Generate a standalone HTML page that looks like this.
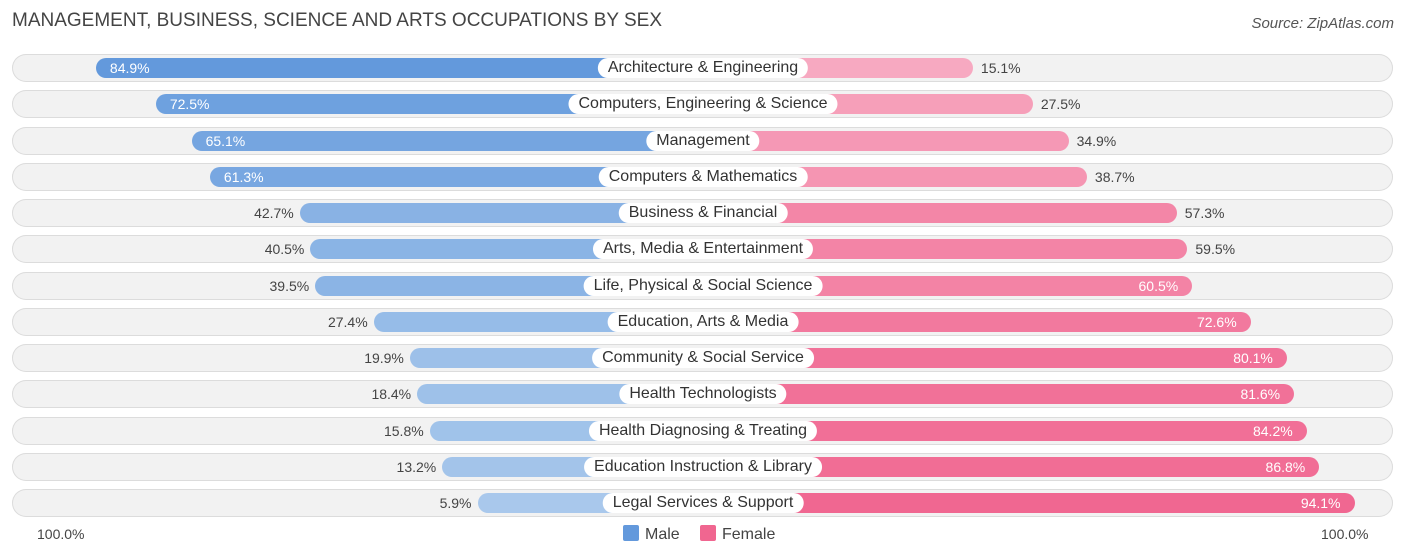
<!DOCTYPE html>
<html><head><meta charset="utf-8"><style>
body{margin:0;width:1406px;height:559px;background:#fff;font-family:"Liberation Sans",sans-serif;position:relative;overflow:hidden}
.abs{position:absolute}
.row{position:absolute;left:12px;width:1381px;height:28px;border-radius:14px;background:#f2f2f2;box-shadow:inset 0 0 0 1px #dcdcdc}
.bar{position:absolute;height:20px;border-radius:10px}
.lab{position:absolute;height:20px;line-height:20px;background:#fff;border-radius:10px;padding:0 10px;font-size:16px;color:#333;transform:translateX(-50%);white-space:nowrap}
.val{position:absolute;font-size:14px;line-height:20px;color:#444}
</style></head><body>
<div class="abs" style="left:12px;top:10px;font-size:19px;color:#444">MANAGEMENT, BUSINESS, SCIENCE AND ARTS OCCUPATIONS BY SEX</div>
<div class="abs" style="right:12px;top:15px;font-size:15px;color:#555;font-style:italic">Source: ZipAtlas.com</div>
<div id="chart"></div>
<div class="abs" style="left:37px;top:526px;font-size:14px;color:#444">100.0%</div>
<div class="abs" style="left:1321px;top:526px;font-size:14px;color:#444">100.0%</div>
<div class="abs" style="left:623px;top:525px;font-size:16px;color:#444"><span style="display:inline-block;width:16px;height:16px;background:#6399dc;border-radius:2px;vertical-align:-2px;margin-right:6px"></span>Male</div>
<div class="abs" style="left:700px;top:525px;font-size:16px;color:#444"><span style="display:inline-block;width:16px;height:16px;background:#f06690;border-radius:2px;vertical-align:-2px;margin-right:6px"></span>Female</div>
<script>
const categories=["Architecture & Engineering","Computers, Engineering & Science","Management","Computers & Mathematics","Business & Financial","Arts, Media & Entertainment","Life, Physical & Social Science","Education, Arts & Media","Community & Social Service","Health Technologists","Health Diagnosing & Treating","Education Instruction & Library","Legal Services & Support"];
const maleValues=[84.9,72.5,65.1,61.3,42.7,40.5,39.5,27.4,19.9,18.4,15.8,13.2,5.9];
const femaleValues=[15.1,27.5,34.9,38.7,57.3,59.5,60.5,72.6,80.1,81.6,84.2,86.8,94.1];
const cx=703,y0=68,dy=36.25;
function len(v){return 197+4.83*v;}
function mix(a,b,t){return 'rgb('+a.map((x,i)=>Math.round(x+(b[i]-x)*t)).join(',')+')';}
const c=document.getElementById('chart');
function add(cls,style,name,txt){const e=document.createElement('div');e.className=cls;e.setAttribute('style',style);


if(txt!==undefined)e.textContent=txt;c.appendChild(e);return e;}
categories.forEach((cat,i)=>{
 const y=y0+i*dy;
 add('row','top:'+(y-14)+'px','row-bg');
 const m=maleValues[i],f=femaleValues[i];
 const ml=len(m),fl=len(f);
 const mt=Math.min(1,Math.max(0,(85-m)/80)),ft=Math.min(1,Math.max(0,(f-15)/80));
 add('bar','top:'+(y-10)+'px;left:'+(cx-ml)+'px;width:'+ml+'px;background:'+mix([99,153,220],[170,201,236],mt),'bar-male');
 add('bar','top:'+(y-10)+'px;left:'+cx+'px;width:'+fl+'px;background:'+mix([247,169,193],[240,102,144],ft),'bar-female');
 if(m>=60) add('val','top:'+(y-10)+'px;left:'+(cx-ml+14)+'px;color:#fff','value-male',m.toFixed(1)+'%');
 else add('val','top:'+(y-10)+'px;right:'+(1406-(cx-ml)+6)+'px','value-male',m.toFixed(1)+'%');
 if(f>=60) add('val','top:'+(y-10)+'px;right:'+(1406-(cx+fl)+14)+'px;color:#fff','value-female',f.toFixed(1)+'%');
 else add('val','top:'+(y-10)+'px;left:'+(cx+fl+8)+'px','value-female',f.toFixed(1)+'%');
 add('lab','top:'+(y-10)+'px;left:'+cx+'px','category-label',cat);
});
</script>
</body></html>
